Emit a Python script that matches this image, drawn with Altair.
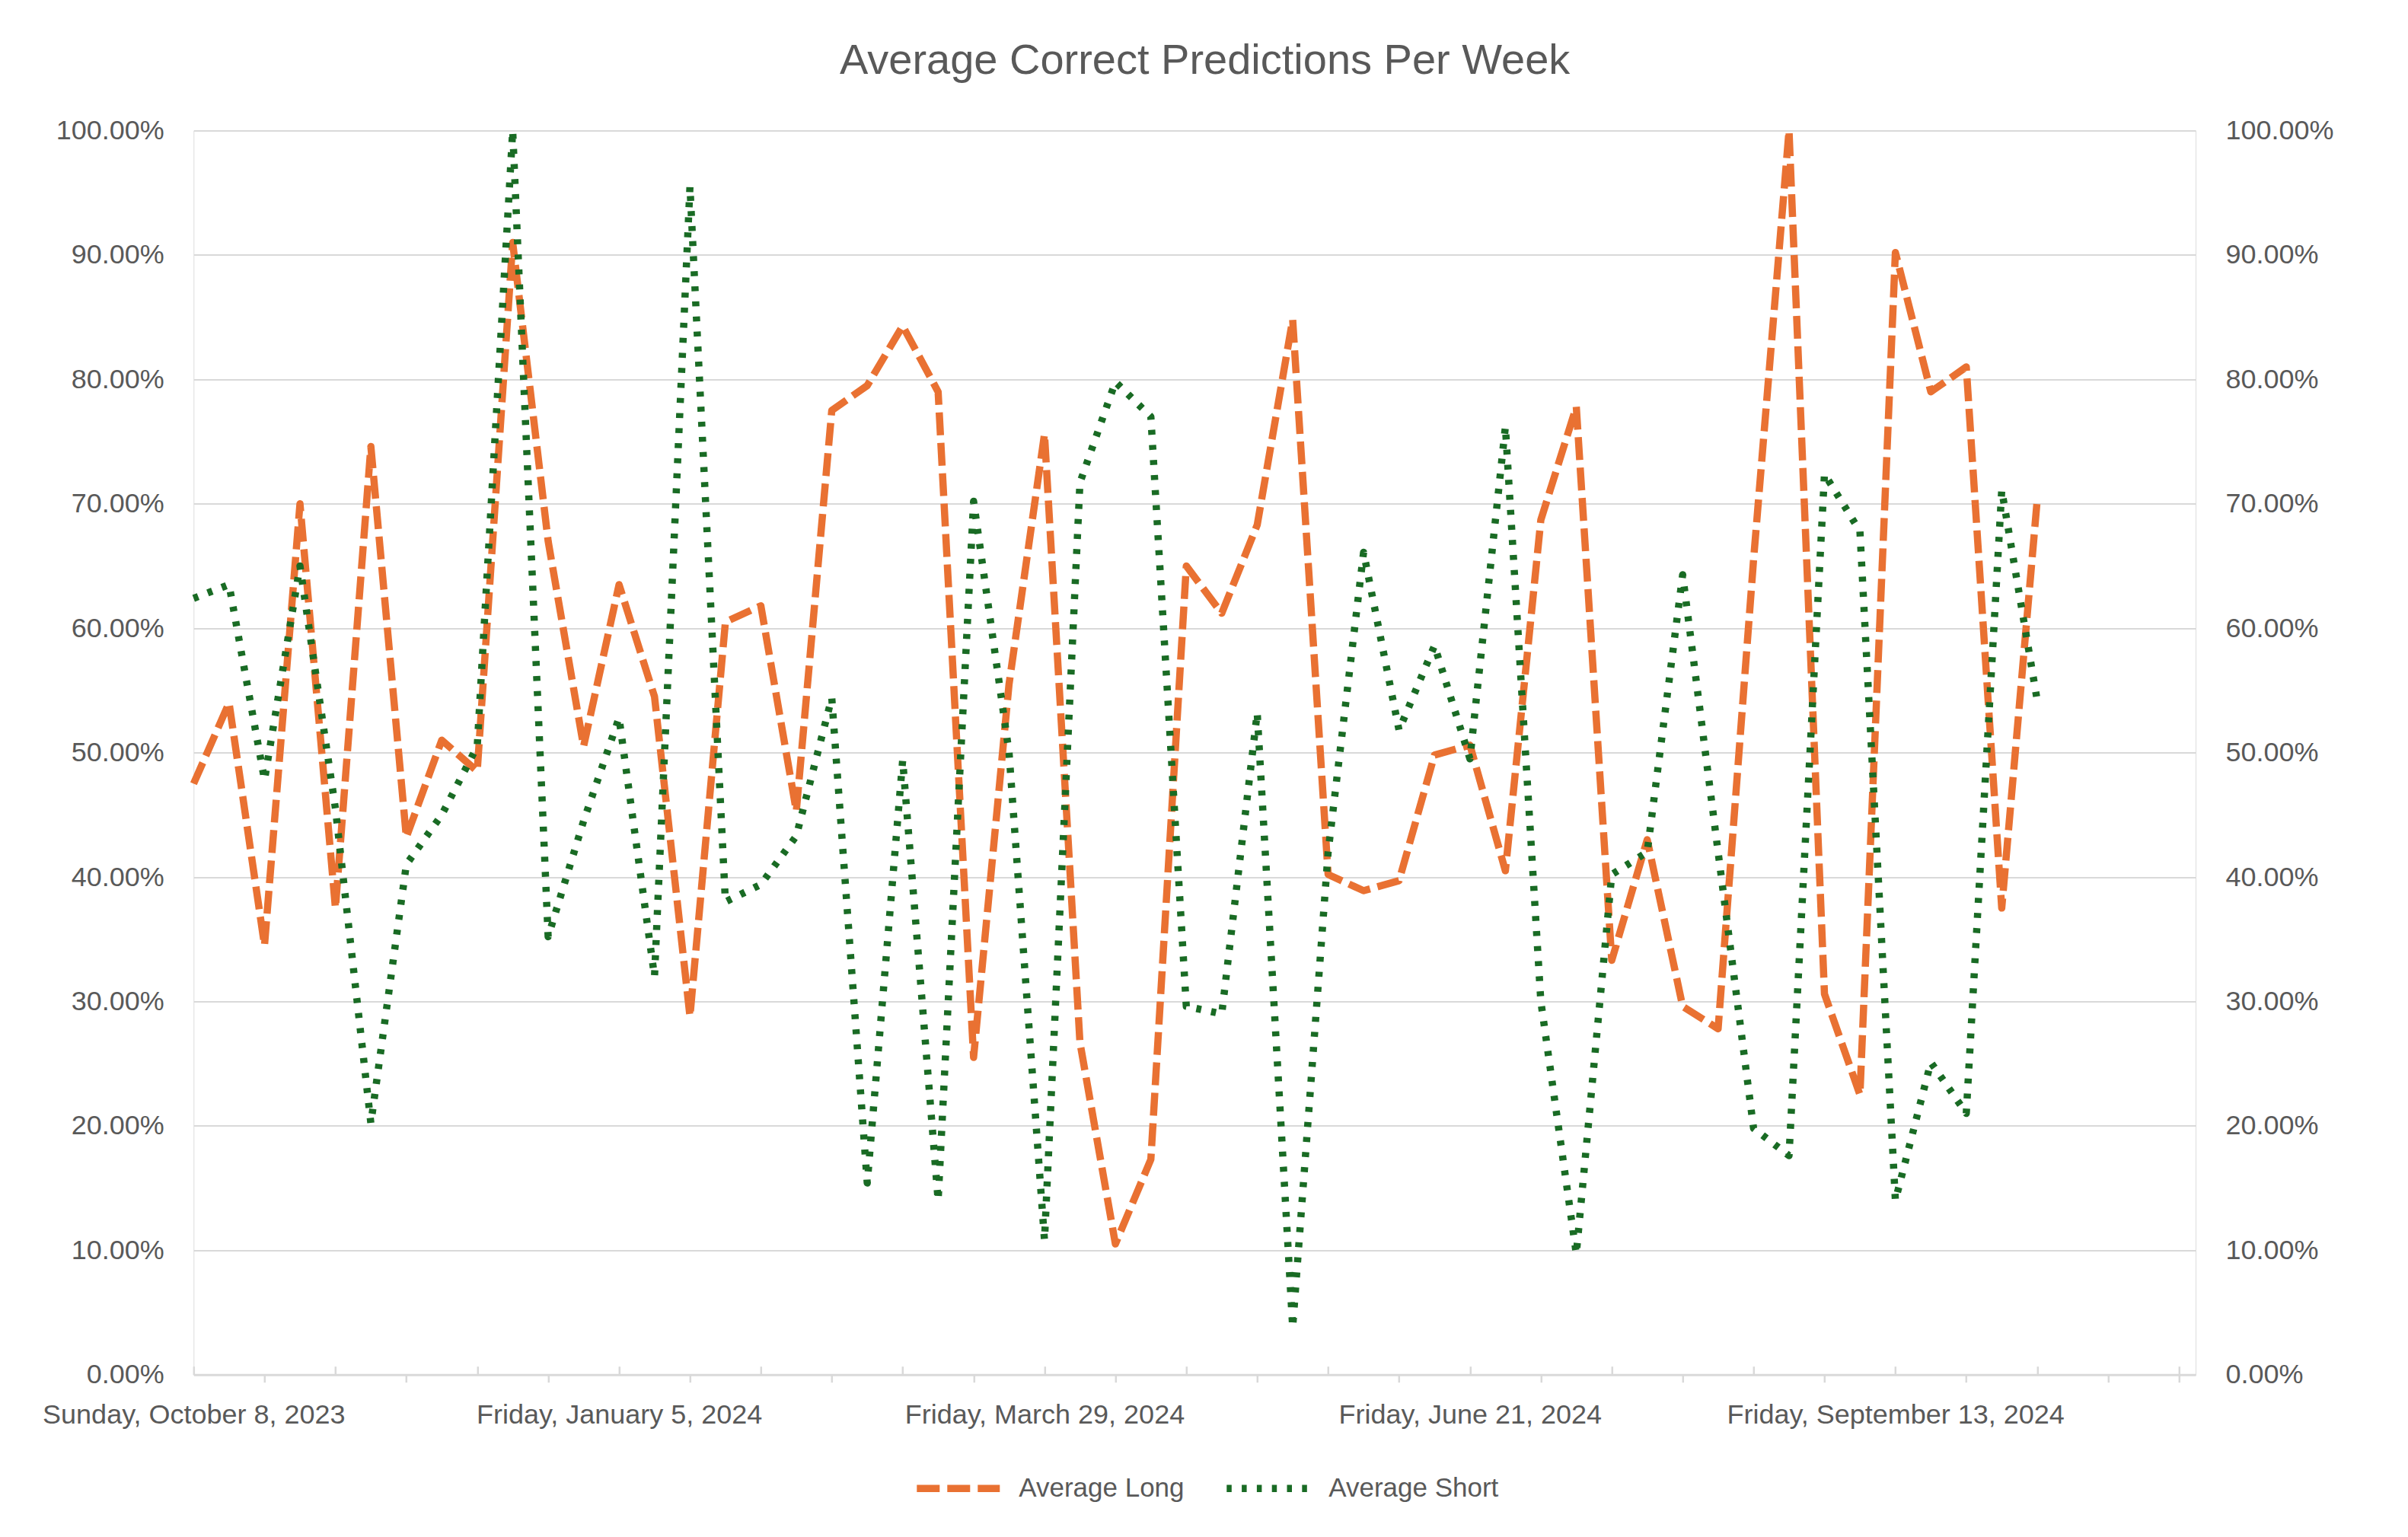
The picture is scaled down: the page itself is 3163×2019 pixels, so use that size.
import altair as alt
import pandas as pd
from datetime import date

# ---- data ----
week_dates = [
    "2023-10-08", "2023-10-20", "2023-10-27", "2023-11-03", "2023-11-10", "2023-11-17",
    "2023-11-24", "2023-12-01", "2023-12-08", "2023-12-15", "2023-12-22", "2023-12-29",
    "2024-01-05", "2024-01-12", "2024-01-19", "2024-01-26", "2024-02-02", "2024-02-09",
    "2024-02-16", "2024-02-23", "2024-03-01", "2024-03-08", "2024-03-15", "2024-03-22",
    "2024-03-29", "2024-04-05", "2024-04-12", "2024-04-19", "2024-04-26", "2024-05-03",
    "2024-05-10", "2024-05-17", "2024-05-24", "2024-05-31", "2024-06-07", "2024-06-14",
    "2024-06-21", "2024-06-28", "2024-07-05", "2024-07-12", "2024-07-19", "2024-07-26",
    "2024-08-02", "2024-08-09", "2024-08-16", "2024-08-23", "2024-08-30", "2024-09-06",
    "2024-09-13", "2024-09-20", "2024-09-27", "2024-10-04", "2024-10-11",
]

average_long = [
    0.475, 0.540, 0.345, 0.700, 0.375, 0.746, 0.432, 0.510, 0.485, 0.910,
    0.670, 0.505, 0.635, 0.545, 0.288, 0.605, 0.618, 0.453, 0.775, 0.795,
    0.843, 0.790, 0.255, 0.555, 0.756, 0.267, 0.105, 0.173, 0.650, 0.612,
    0.683, 0.848, 0.402, 0.389, 0.397, 0.498, 0.506, 0.405, 0.687, 0.778,
    0.333, 0.430, 0.296, 0.278, 0.655, 1.000, 0.306, 0.225, 0.902, 0.790,
    0.810, 0.375, 0.703,
]

average_short = [
    0.624, 0.635, 0.478, 0.650, 0.455, 0.202, 0.410, 0.450, 0.505, 1.000,
    0.352, 0.445, 0.528, 0.320, 0.955, 0.380, 0.394, 0.433, 0.544, 0.154,
    0.494, 0.140, 0.702, 0.500, 0.108, 0.717, 0.798, 0.770, 0.296, 0.290,
    0.532, 0.038, 0.420, 0.661, 0.518, 0.586, 0.495, 0.762, 0.300, 0.097,
    0.402, 0.420, 0.643, 0.420, 0.198, 0.176, 0.724, 0.678, 0.140, 0.251,
    0.210, 0.711, 0.542,
]

series_names = ["Average Long", "Average Short"]
series_colors = ["#E97132", "#196B24"]
y_ticks = [0.0, 0.1, 0.2, 0.3, 0.4, 0.5, 0.6, 0.7, 0.8, 0.9, 1.0]
axis_categories = 57          # categories on the category axis (incl. empty ones)
label_every = 12              # one date label every 12 categories

title_text = "Average Correct Predictions Per Week"

# ---- build tables ----
idx = list(range(len(week_dates)))
df_long = pd.DataFrame({"idx": idx, "week": week_dates, "value": average_long,
                        "series": [series_names[0]] * len(idx)})
df_short = pd.DataFrame({"idx": idx, "week": week_dates, "value": average_short,
                         "series": [series_names[1]] * len(idx)})


def long_date(s):
    d = date.fromisoformat(s)
    return f"{d.strftime('%A')}, {d.strftime('%B')} {d.day}, {d.year}"


label_idx = list(range(0, len(week_dates), label_every))
label_expr = "".join(
    f"datum.value == {i} ? '{long_date(week_dates[i])}' : " for i in label_idx
) + "''"

FONT = "Liberation Sans"
TXT = "#595959"
GRID = "#D9D9D9"

plot_w = 2629.7
plot_h = 1634.2
cat_step = 46.57
x_max = plot_w / cat_step

x_scale = alt.Scale(domain=[0, x_max], nice=False, zero=False)
y_scale = alt.Scale(domain=[0, 1], nice=False)

legend = alt.Legend(
    orient="none", legendX=945, legendY=1724, direction="horizontal", title=None,
    symbolType="stroke", symbolSize=11881, symbolStrokeWidth=9.5,
    labelFontSize=35, labelFont=FONT, labelColor=TXT, labelOffset=20,
    labelLimit=0, columnPadding=36,
)
color_scale = alt.Scale(domain=series_names, range=series_colors)
dash_scale = alt.Scale(domain=series_names, range=[[30, 10], [6.5, 13.3]])

x_axis_main = alt.Axis(
    orient="bottom", title=None, grid=False,
    values=list(range(0, axis_categories, 2)),
    domainColor=GRID, domainWidth=3,
    tickColor=GRID, tickWidth=2.5, tickSize=10,
    tickOpacity={"condition": {"test": f"datum.value % 4 == 2 || datum.value == {axis_categories - 1}", "value": 1}, "value": 0},
    labelExpr=label_expr, labelFont=FONT, labelFontSize=36, labelColor=TXT,
    labelPadding=54, labelBaseline="alphabetic", labelAlign="center",
    labelOverlap=False, labelFlush=False, labelBound=False, labelLimit=0,
)
x_axis_up = alt.Axis(
    orient="bottom", title=None, grid=False, domain=False, labels=False,
    values=list(range(0, axis_categories, 4)),
    tickColor=GRID, tickWidth=2.5, tickSize=11, offset=-11,
)

y_left = alt.Axis(
    orient="left", title=None, values=y_ticks, format=".2%",
    domain=False, ticks=False, grid=True, gridColor=GRID, gridWidth=2,
    labelFont=FONT, labelFontSize=36, labelColor=TXT, labelPadding=39,
)
y_right = alt.Axis(
    orient="right", title=None, values=y_ticks, format=".2%",
    domain=False, ticks=False, grid=False,
    labelFont=FONT, labelFontSize=36, labelColor=TXT, labelPadding=39,
)

line_kw = dict(strokeWidth=9.5, strokeCap="butt", strokeJoin="round")

long_line = alt.Chart(df_long).mark_line(**line_kw).encode(
    x=alt.X("idx:Q", scale=x_scale, axis=x_axis_main),
    y=alt.Y("value:Q", scale=y_scale, axis=y_left),
    color=alt.Color("series:N", scale=color_scale, legend=legend),
    strokeDash=alt.StrokeDash("series:N", scale=dash_scale, legend=legend),
)

short_line = alt.Chart(df_short).mark_line(**line_kw).encode(
    x=alt.X("idx:Q", scale=x_scale, axis=x_axis_up),
    y=alt.Y("value:Q", scale=y_scale, axis=y_right),
    color=alt.Color("series:N", scale=color_scale, legend=legend),
    strokeDash=alt.StrokeDash("series:N", scale=dash_scale, legend=legend),
)

chart = (
    alt.layer(long_line, short_line)
    .resolve_scale(y="independent")
    .resolve_axis(x="independent", y="independent")
    .properties(
        width=plot_w,
        height=plot_h,
        autosize=alt.AutoSizeParams(type="none"),
        padding={"left": 246.3, "top": 163.5, "right": 262, "bottom": 196},
        title=alt.TitleParams(
            text=title_text, font=FONT, fontSize=56, fontWeight="normal",
            color=TXT, anchor="middle", dx=13.5, offset=0, baseline="alphabetic",
        ),
    )
    .configure_view(stroke=None)
    .configure(background="white")
)

chart.save("out.html", embed_options={"renderer": "svg", "actions": False})
